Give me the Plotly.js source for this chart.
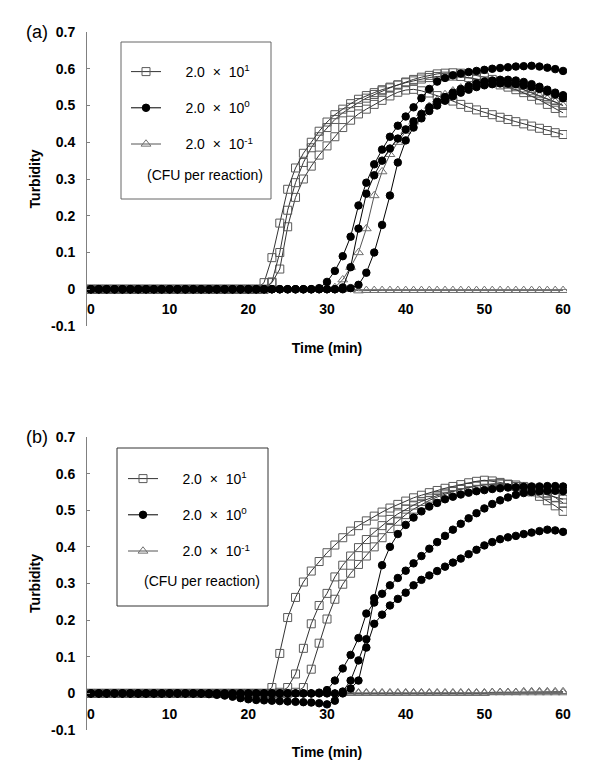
<!DOCTYPE html>
<html>
<head>
<meta charset="utf-8">
<script src="https://cdn.plot.ly/plotly-3.0.1.min.js"></script>
<style>html,body{margin:0;padding:0;background:#fff;}#chart{width:600px;height:760px;}</style>
</head>
<body>
<div id="chart"></div>
<script>
// ---- data ----
const time = [0,1,2,3,4,5,6,7,8,9,10,11,12,13,14,15,16,17,18,19,20,21,22,23,24,25,26,27,28,29,30,31,32,33,34,35,36,37,38,39,40,41,42,43,44,45,46,47,48,49,50,51,52,53,54,55,56,57,58,59,60];

const xTickVals = [0,10,20,30,40,50,60];
const yTickVals = [-0.1,0,0.1,0.2,0.3,0.4,0.5,0.6,0.7];
const yTickText = ['-0.1','0','0.1','0.2','0.3','0.4','0.5','0.6','0.7'];

const PAD = '\u00A0\u00A0\u00A0\u00A0\u00A0';
const seriesNames = ['2.0\u00A0\u00A0×\u00A0\u00A010<sup>1</sup>','2.0\u00A0\u00A0×\u00A0\u00A010<sup>0</sup>','2.0\u00A0\u00A0×\u00A0\u00A010<sup>-1</sup>'];
const legendNote = '(CFU per reaction)';
const panelLabels = ['(a)','(b)'];

// panel (a) : 2.0 x 10^1 CFU (squares)
const aSq1 = [0,0,0,0,0,0,0,0,0,0, 0,0,0,0,0,0,0,0,0,0,
  0,0,0.018,0.086,0.18,0.272,0.33,0.37,0.40,0.43,
  0.455,0.475,0.49,0.505,0.517,0.527,0.535,0.543,0.55,0.556,
  0.562,0.567,0.572,0.576,0.579,0.58,0.58,0.579,0.576,0.572,
  0.567,0.562,0.556,0.55,0.543,0.535,0.525,0.515,0.503,0.492, 0.48];
const aSq2 = [0,0,0,0,0,0,0,0,0,0, 0,0,0,0,0,0,0,0,0,0,
  0,0,0,0.02,0.10,0.215,0.29,0.345,0.385,0.415,
  0.44,0.462,0.48,0.495,0.508,0.52,0.53,0.54,0.548,0.556,
  0.564,0.571,0.577,0.582,0.586,0.588,0.589,0.588,0.586,0.582,
  0.577,0.571,0.565,0.558,0.551,0.543,0.535,0.527,0.518,0.509, 0.5];
const aSq3 = [0,0,0,0,0,0,0,0,0,0, 0,0,0,0,0,0,0,0,0,0,
  0,0,0,0.018,0.055,0.17,0.25,0.30,0.335,0.365,
  0.39,0.415,0.44,0.46,0.477,0.49,0.503,0.514,0.526,0.536,
  0.542,0.544,0.54,0.534,0.527,0.52,0.512,0.503,0.495,0.488,
  0.481,0.475,0.468,0.462,0.456,0.45,0.444,0.438,0.432,0.426, 0.421];
// panel (a) : 2.0 x 10^0 CFU (circles)
const aCi1 = [0,0,0,0,0,0,0,0,0,0, 0,0,0,0,0,0,0,0,0,0,
  0,0,0,0,0,0,0,0,0,0.003,
  0.02,0.05,0.09,0.143,0.228,0.29,0.34,0.38,0.415,0.445,
  0.47,0.495,0.52,0.545,0.565,0.575,0.582,0.587,0.591,0.594,
  0.597,0.6,0.602,0.604,0.606,0.607,0.608,0.606,0.603,0.599, 0.594];
const aCi2 = [0,0,0,0,0,0,0,0,0,0, 0,0,0,0,0,0,0,0,0,0,
  0,0,0,0,0,0,0,0,0,0,
  0,0,0.005,0.06,0.165,0.26,0.31,0.35,0.383,0.41,
  0.435,0.457,0.477,0.495,0.51,0.523,0.535,0.545,0.553,0.56,
  0.565,0.568,0.57,0.57,0.568,0.564,0.558,0.551,0.543,0.535, 0.528];
const aCi3 = [0,0,0,0,0,0,0,0,0,0, 0,0,0,0,0,0,0,0,0,0,
  0,0,0,0,0,0,0,0,0,0,
  0,0,0,0.003,0.012,0.045,0.10,0.175,0.255,0.345,
  0.405,0.44,0.465,0.485,0.5,0.513,0.525,0.535,0.543,0.55,
  0.555,0.558,0.56,0.56,0.558,0.555,0.55,0.545,0.538,0.53, 0.52];
// panel (a) : 2.0 x 10^-1 CFU (triangles)
const aTr1 = [0,0,0,0,0,0,0,0,0,0, 0,0,0,0,0,0,0,0,0,0,
  0,0,0,0,0,0,0,0,0,0,
  0,0.005,0.026,0.06,0.10,0.165,0.255,0.32,0.367,0.40,
  0.43,0.455,0.478,0.498,0.515,0.53,0.54,0.548,0.555,0.558,
  0.56,0.56,0.558,0.555,0.55,0.543,0.535,0.527,0.518,0.51, 0.5];
const aTr2 = [0,0,0,0,0,0,0,0,0,0, 0,0,0,0,0,0,0,0,0,0,
  0,0,0,0,0,0,0,0,0,0,
  0,0,0,0,-0.004,-0.003,-0.003,-0.003,-0.003,-0.003,
  -0.003,-0.003,-0.003,-0.003,-0.003,-0.003,-0.003,-0.003,-0.003,-0.003,
  -0.003,-0.003,-0.003,-0.003,-0.003,-0.003,-0.003,-0.003,-0.003,-0.003, -0.003];

// panel (b) : squares
const bSq1 = [0,0,0,0,0,0,0,0,0,0, 0,0,0,0,0,0,0,0,0,0,
  0,0,0,0.016,0.109,0.207,0.262,0.304,0.334,0.36,
  0.384,0.405,0.425,0.443,0.458,0.471,0.484,0.495,0.506,0.516,
  0.525,0.534,0.541,0.548,0.554,0.56,0.565,0.57,0.575,0.579,
  0.582,0.58,0.576,0.571,0.565,0.56,0.553,0.547,0.54,0.535, 0.53];
const bSq2 = [0,0,0,0,0,0,0,0,0,0, 0,0,0,0,0,0,0,0,0,0,
  0,0,0,0,0.003,0.016,0.053,0.123,0.19,0.24,
  0.273,0.318,0.35,0.375,0.398,0.42,0.44,0.458,0.475,0.49,
  0.503,0.514,0.524,0.533,0.54,0.547,0.553,0.558,0.563,0.567,
  0.57,0.572,0.572,0.57,0.565,0.558,0.55,0.538,0.526,0.512, 0.497];
const bSq3 = [0,0,0,0,0,0,0,0,0,0, 0,0,0,0,0,0,0,0,0,0,
  0,0,0,0,0,0,0.003,0.016,0.066,0.137,
  0.203,0.257,0.298,0.328,0.352,0.375,0.40,0.425,0.45,0.47,
  0.488,0.503,0.516,0.527,0.536,0.544,0.551,0.557,0.562,0.566,
  0.569,0.571,0.572,0.571,0.569,0.565,0.56,0.553,0.545,0.535, 0.52];
// panel (b) : circles
const bCi1 = [0,0,0,0,0,0,0,0,0,0, 0,0,0,0,0,0,0,0,0,0,
  0,0,0,0,0,0,0,0,0,0.002,
  0.009,0.035,0.068,0.105,0.151,0.218,0.248,0.272,0.295,0.315,
  0.335,0.355,0.375,0.395,0.413,0.43,0.447,0.463,0.478,0.492,
  0.505,0.517,0.527,0.535,0.542,0.547,0.55,0.552,0.553,0.553, 0.552];
const bCi2 = [0,0,0,0,0,0,0,0,0,0, 0,0,0,0,0,-0.002,-0.004,-0.006,-0.009,-0.013,
  -0.016,-0.018,-0.019,-0.02,-0.021,-0.022,-0.023,-0.024,-0.025,-0.027,
  -0.03,-0.02,0.005,0.035,0.09,0.148,0.26,0.35,0.40,0.435,
  0.46,0.48,0.497,0.51,0.52,0.53,0.537,0.543,0.548,0.552,
  0.555,0.558,0.56,0.562,0.563,0.564,0.565,0.565,0.566,0.566, 0.565];
const bCi3 = [0,0,0,0,0,0,0,0,0,0, 0,0,0,0,0,0,0,0,0,0,
  0,0,0,0,0,0,0,0,0,0,
  0,0,0,0.013,0.035,0.125,0.19,0.215,0.24,0.258,
  0.275,0.295,0.31,0.322,0.334,0.346,0.357,0.368,0.38,0.392,
  0.404,0.413,0.421,0.426,0.43,0.435,0.439,0.443,0.447,0.445, 0.441];
// panel (b) : triangles
const bTr1 = [0,0,0,0,0,0,0,0,0,0, 0,0,0,0,0,0,0,0,0,0,
  0,0,0,0,0,0,0,0,0,0,
  0,0,0,0.002,0.002,0.002,0.002,0.002,0.002,0.002,
  0.002,0.002,0.002,0.002,0.002,0.002,0.002,0.002,0.002,0.002,
  0.002,0.002,0.002,0.002,0.002,0.002,0.002,0.002,0.002,0.002, 0.002];
const bTr2 = [0,0,0,0,0,0,0,0,0,0, 0,0,0,0,0,0,0,0,0,0,
  0,0,0,0,0,0,0,0,0,0,
  0,0,0,0,0,0,0,0,0,0,
  0,0,0,0,0,0,0,0,0,0,
  0,0.003,0.003,0.003,0.003,0.005,0.005,0.005,0.005,0.005, 0.005];

// ---- styles ----
const styles = [
  {symbol:'square-open', size:8, mcolor:'#5a5a5a', lcolor:'#333333'},
  {symbol:'circle', size:7.5, mcolor:'#000000', lcolor:'#000000'},
  {symbol:'triangle-up-open', size:8.5, mcolor:'#707070', lcolor:'#555555'}
];

function mk(y, g, xa, ya, leg, show) {
  const s = styles[g];
  return {
    x: time, y: y, type: 'scatter', mode: 'lines+markers',
    xaxis: xa, yaxis: ya, legend: leg,
    name: PAD + seriesNames[g], legendgroup: leg + 'g' + g, showlegend: show, legendrank: g + 1,
    line: {color: s.lcolor, width: 1},
    marker: {symbol: s.symbol, size: s.size, color: s.mcolor, line: {color: s.mcolor, width: 1}},
    hoverinfo: 'skip'
  };
}

const traces = [
  mk(aTr2, 2, 'x', 'y', 'legend', false),
  mk(aTr1, 2, 'x', 'y', 'legend', true),
  mk(aSq3, 0, 'x', 'y', 'legend', false),
  mk(aSq2, 0, 'x', 'y', 'legend', false),
  mk(aSq1, 0, 'x', 'y', 'legend', true),
  mk(aCi3, 1, 'x', 'y', 'legend', false),
  mk(aCi2, 1, 'x', 'y', 'legend', false),
  mk(aCi1, 1, 'x', 'y', 'legend', true),
  mk(bTr2, 2, 'x2', 'y2', 'legend2', false),
  mk(bTr1, 2, 'x2', 'y2', 'legend2', true),
  mk(bSq3, 0, 'x2', 'y2', 'legend2', false),
  mk(bSq2, 0, 'x2', 'y2', 'legend2', false),
  mk(bSq1, 0, 'x2', 'y2', 'legend2', true),
  mk(bCi3, 1, 'x2', 'y2', 'legend2', false),
  mk(bCi2, 1, 'x2', 'y2', 'legend2', false),
  mk(bCi1, 1, 'x2', 'y2', 'legend2', true)
];

const W = 600, H = 760;
const px = v => v / W;
const py = v => 1 - v / H;
const FONT = 'Arial, "Liberation Sans", sans-serif';
const boldTick = {family: FONT, size: 14, weight: 'bold', color: '#000'};
const boldTitle = {family: FONT, size: 14, weight: 'bold', color: '#000'};

function xAxis(pos) {
  return {
    domain: [px(87), px(567)], range: [-0.5, 60.5], anchor: 'free', position: pos,
    tickvals: xTickVals, showgrid: false, zeroline: false, showline: false, ticks: '',
    tickfont: boldTick, ticklabelstandoff: 10, automargin: false,
    title: {text: 'Time (min)', font: boldTitle, standoff: 27}
  };
}
function yAxis(top, bottom, xa) {
  return {
    domain: [py(bottom), py(top)], range: [-0.1, 0.7], anchor: xa,
    tickvals: yTickVals, ticktext: yTickText,
    showgrid: false, showline: true, linecolor: '#808080', linewidth: 1,
    ticks: 'inside', ticklen: 3, tickcolor: '#808080',
    zeroline: true, zerolinecolor: '#808080', zerolinewidth: 1,
    tickfont: boldTick, ticklabelstandoff: 8, automargin: false,
    title: {text: 'Turbidity', font: boldTitle, standoff: 7}
  };
}
function legendCfg(left, top) {
  return {
    x: px(left), y: py(top), xanchor: 'left', yanchor: 'top',
    bgcolor: 'rgba(0,0,0,0)', borderwidth: 0,
    font: {family: FONT, size: 14, color: '#000'},
    tracegroupgap: 15, itemwidth: 30, traceorder: 'grouped', itemclick: false
  };
}

const layout = {
  width: W, height: H,
  margin: {l: 0, r: 0, t: 0, b: 0},
  paper_bgcolor: '#ffffff', plot_bgcolor: '#ffffff',
  font: {family: FONT, color: '#000'},
  xaxis: xAxis(py(289)),
  yaxis: yAxis(32, 326, 'x'),
  xaxis2: xAxis(py(694)),
  yaxis2: yAxis(437, 730, 'x2'),
  legend: legendCfg(126, 56),
  legend2: legendCfg(123, 463),
  shapes: [
    {type: 'rect', xref: 'paper', yref: 'paper', x0: px(121), x1: px(271), y0: py(199), y1: py(42), line: {color: '#666666', width: 1}},
    {type: 'rect', xref: 'paper', yref: 'paper', x0: px(117), x1: px(268), y0: py(606), y1: py(448), line: {color: '#333333', width: 1}}
  ],
  annotations: [
    {text: panelLabels[0], xref: 'paper', yref: 'paper', x: px(37), y: py(32), xanchor: 'center', yanchor: 'middle', showarrow: false, font: {family: FONT, size: 18, color: '#000'}},
    {text: panelLabels[1], xref: 'paper', yref: 'paper', x: px(37), y: py(437), xanchor: 'center', yanchor: 'middle', showarrow: false, font: {family: FONT, size: 18, color: '#000'}},
    {text: legendNote, xref: 'paper', yref: 'paper', x: px(205), y: py(175), xanchor: 'center', yanchor: 'middle', showarrow: false, font: {family: FONT, size: 14, color: '#000'}},
    {text: legendNote, xref: 'paper', yref: 'paper', x: px(202), y: py(581), xanchor: 'center', yanchor: 'middle', showarrow: false, font: {family: FONT, size: 14, color: '#000'}}
  ]
};

Plotly.newPlot('chart', traces, layout, {staticPlot: true, displayModeBar: false});
</script>
</body>
</html>
